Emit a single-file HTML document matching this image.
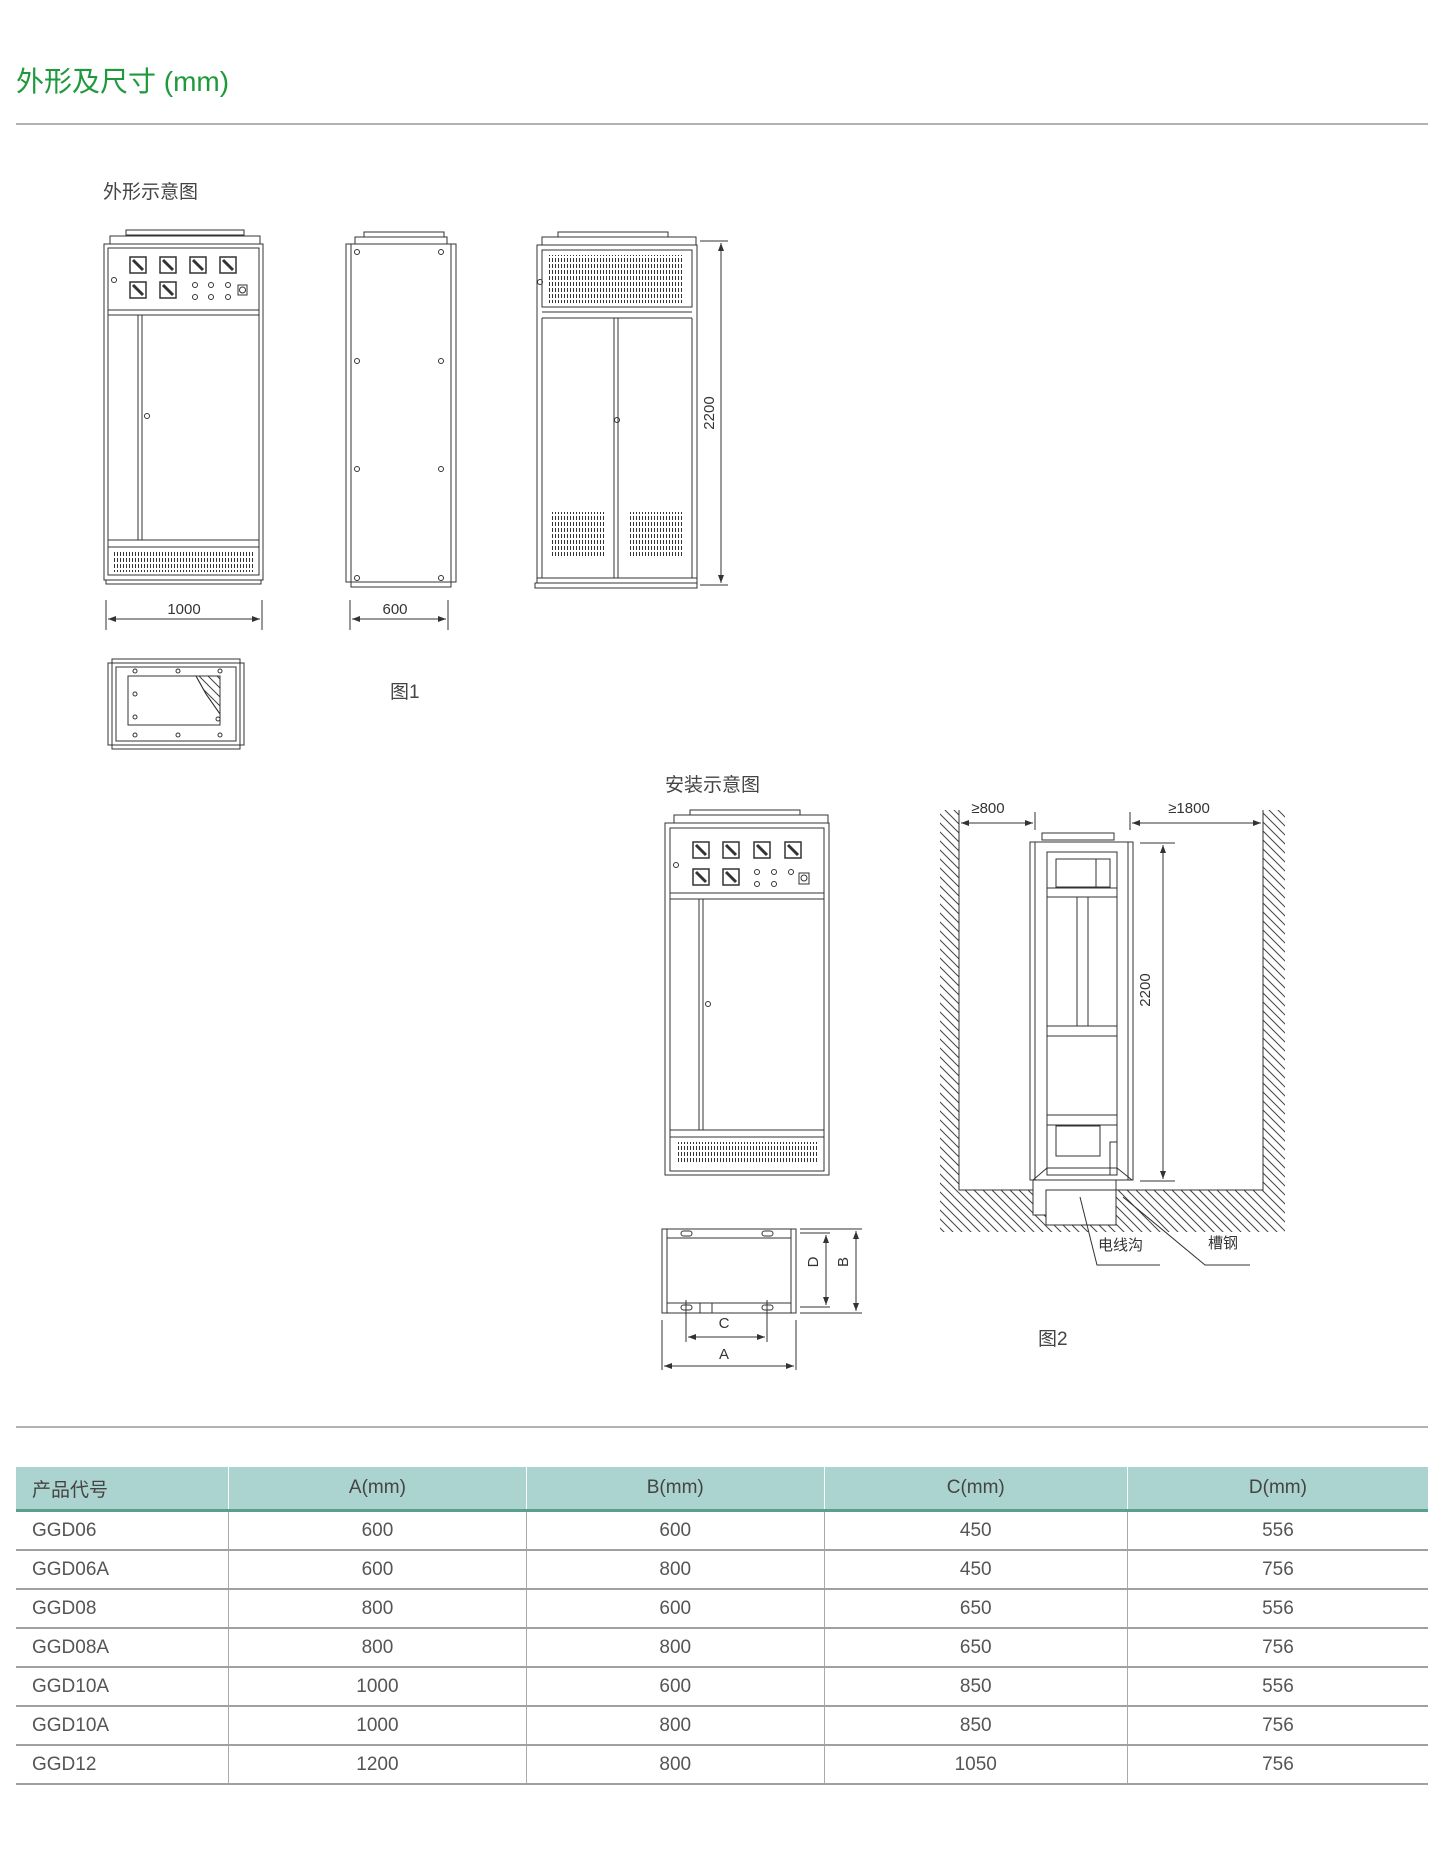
<!DOCTYPE html>
<html><head><meta charset="utf-8"><style>
body{margin:0;background:#fff;width:1456px;height:1849px;overflow:hidden;font-family:"Liberation Sans","Noto Sans CJK SC",sans-serif}
svg text{font-family:"Liberation Sans","Noto Sans CJK SC",sans-serif}
table{position:absolute;left:16px;top:1467px;width:1412px;border-collapse:collapse;color:#555;font-size:19px}
th{background:#abd3cf;font-weight:normal;height:42px;padding:0;border-bottom:3px solid #5a9e8c;border-left:1px solid #fff;color:#444}
td{height:37px;padding:0;border-bottom:2px solid #a0a0a0;border-left:1px solid #aaa;text-align:center}
td:first-child,th:first-child{text-align:left;padding-left:16px;border-left:none}
</style></head><body>
<svg width="1456" height="1849" style="position:absolute;left:0;top:0" viewBox="0 0 1456 1849">
<defs>
<pattern id="h" width="9" height="9" patternUnits="userSpaceOnUse"><path d="M0 0L9 9M-9 0L9 18M0 -9L18 9" stroke="#444" stroke-width="1"/></pattern>
<pattern id="v" width="3" height="6" patternUnits="userSpaceOnUse"><rect x="0" y="0" width="1" height="4" fill="#333"/></pattern>
<marker id="a" markerWidth="8" markerHeight="6" refX="8" refY="3" orient="auto-start-reverse"><path d="M0 0L8 3L0 6z" fill="#333"/></marker>
</defs>
<text x="16" y="91" font-size="28" fill="#1e9a3c">外形及尺寸 (mm)</text>
<line x1="16" y1="124" x2="1428" y2="124" stroke="#999" stroke-width="1.5"/>
<text x="103" y="198" font-size="19" fill="#444">外形示意图</text>
<g fill="none" stroke="#333" stroke-width="1">
<rect x="126" y="230" width="118" height="5"/><rect x="110" y="236" width="150" height="8"/>
<rect x="104" y="244" width="159" height="336"/><rect x="108" y="248" width="151" height="327"/>
<line x1="108" y1="310" x2="259" y2="310"/><line x1="108" y1="315" x2="259" y2="315"/>
<line x1="138" y1="315" x2="138" y2="540"/><line x1="142" y1="315" x2="142" y2="540"/>
<circle cx="147" cy="416" r="2.5"/><circle cx="114" cy="280" r="2.5"/>
<line x1="108" y1="540" x2="259" y2="540"/><line x1="108" y1="547" x2="259" y2="547"/>
<rect x="114" y="552" width="140" height="20" fill="url(#v)" stroke="none"/>
<rect x="106" y="580" width="155" height="4"/>
<g stroke-width="1.5"><rect x="130" y="257" width="16" height="16"/><rect x="160" y="257" width="16" height="16"/><rect x="190" y="257" width="16" height="16"/><rect x="220" y="257" width="16" height="16"/>
<rect x="130" y="282" width="16" height="16"/><rect x="160" y="282" width="16" height="16"/>
<path d="M133 260l10 10M163 260l10 10M193 260l10 10M223 260l10 10M133 285l10 10M163 285l10 10" stroke-width="3"/></g>
<circle cx="195" cy="285" r="2.5"/><circle cx="211" cy="285" r="2.5"/><circle cx="228" cy="285" r="2.5"/>
<circle cx="195" cy="297" r="2.5"/><circle cx="211" cy="297" r="2.5"/><circle cx="228" cy="297" r="2.5"/>
<rect x="238" y="285" width="9" height="10"/><circle cx="242.5" cy="290" r="3"/>
<line x1="106" y1="600" x2="106" y2="630"/><line x1="262" y1="600" x2="262" y2="630"/>
<line x1="108" y1="619" x2="260" y2="619" marker-start="url(#a)" marker-end="url(#a)"/>
<rect x="364" y="232" width="80" height="5"/><rect x="355" y="237" width="92" height="7"/>
<rect x="346" y="244" width="110" height="338"/><rect x="351" y="244" width="100" height="338"/>
<circle cx="357" cy="252" r="2.5"/><circle cx="441" cy="252" r="2.5"/><circle cx="357" cy="361" r="2.5"/><circle cx="441" cy="361" r="2.5"/>
<circle cx="357" cy="469" r="2.5"/><circle cx="441" cy="469" r="2.5"/><circle cx="357" cy="578" r="2.5"/><circle cx="441" cy="578" r="2.5"/>
<rect x="351" y="582" width="100" height="5"/>
<line x1="350" y1="600" x2="350" y2="630"/><line x1="448" y1="600" x2="448" y2="630"/>
<line x1="352" y1="619" x2="446" y2="619" marker-start="url(#a)" marker-end="url(#a)"/>
<rect x="558" y="232" width="110" height="5"/><rect x="542" y="237" width="154" height="8"/>
<rect x="537" y="245" width="160" height="338"/><rect x="542" y="250" width="150" height="57"/>
<rect x="548" y="255" width="136" height="48" fill="url(#v)" stroke="none"/>
<line x1="542" y1="312" x2="692" y2="312"/><line x1="542" y1="318" x2="692" y2="318"/>
<line x1="542" y1="318" x2="542" y2="578"/><line x1="692" y1="318" x2="692" y2="578"/>
<line x1="614" y1="318" x2="614" y2="578"/><line x1="618" y1="318" x2="618" y2="578"/>
<circle cx="617" cy="420" r="2.5"/><circle cx="540" cy="282" r="2.5"/>
<rect x="550" y="512" width="55" height="45" fill="url(#v)" stroke="none"/><rect x="628" y="512" width="55" height="45" fill="url(#v)" stroke="none"/>
<line x1="537" y1="578" x2="697" y2="578"/><rect x="535" y="583" width="162" height="5"/>
<line x1="700" y1="241" x2="728" y2="241"/><line x1="700" y1="585" x2="728" y2="585"/>
<line x1="721" y1="243" x2="721" y2="583" marker-start="url(#a)" marker-end="url(#a)"/>
<rect x="112" y="659" width="128" height="90"/><rect x="108" y="663" width="136" height="82"/><rect x="116" y="667" width="120" height="74"/>
<path d="M128 676H196L206 694L220 714V725H128Z"/>
<path d="M196 676L206 694L220 714V676Z" fill="url(#h)"/>
<circle cx="135" cy="671" r="2"/><circle cx="178" cy="671" r="2"/><circle cx="220" cy="671" r="2"/><circle cx="135" cy="735" r="2"/><circle cx="178" cy="735" r="2"/><circle cx="220" cy="735" r="2"/><circle cx="135" cy="694" r="2"/><circle cx="135" cy="717" r="2"/><circle cx="218" cy="719" r="2"/>
<rect x="690" y="810" width="110" height="5"/><rect x="674" y="815" width="154" height="8"/>
<rect x="665" y="823" width="164" height="352"/><rect x="670" y="828" width="154" height="343"/>
<line x1="670" y1="893" x2="824" y2="893"/><line x1="670" y1="899" x2="824" y2="899"/>
<line x1="699" y1="899" x2="699" y2="1130"/><line x1="703" y1="899" x2="703" y2="1130"/>
<circle cx="708" cy="1004" r="2.5"/><circle cx="676" cy="865" r="2.5"/>
<line x1="670" y1="1130" x2="824" y2="1130"/><line x1="670" y1="1137" x2="824" y2="1137"/>
<rect x="676" y="1142" width="142" height="22" fill="url(#v)" stroke="none"/>
<g stroke-width="1.5"><rect x="693" y="842" width="16" height="16"/><rect x="723" y="842" width="16" height="16"/><rect x="754" y="842" width="16" height="16"/><rect x="785" y="842" width="16" height="16"/>
<rect x="693" y="869" width="16" height="16"/><rect x="723" y="869" width="16" height="16"/>
<path d="M696 845l10 10M726 845l10 10M757 845l10 10M788 845l10 10M696 872l10 10M726 872l10 10" stroke-width="3"/></g>
<circle cx="757" cy="872" r="2.5"/><circle cx="774" cy="872" r="2.5"/><circle cx="791" cy="872" r="2.5"/><circle cx="757" cy="884" r="2.5"/><circle cx="774" cy="884" r="2.5"/>
<rect x="799" y="873" width="10" height="11"/><circle cx="804" cy="878" r="3"/>
<rect x="662" y="1229" width="134" height="84"/><line x1="667" y1="1229" x2="667" y2="1313"/><line x1="791" y1="1229" x2="791" y2="1313"/>
<line x1="667" y1="1238" x2="791" y2="1238"/><line x1="667" y1="1303" x2="791" y2="1303"/>
<rect x="681" y="1231" width="11" height="5" rx="2.5"/><rect x="762" y="1231" width="11" height="5" rx="2.5"/><rect x="681" y="1305" width="11" height="5" rx="2.5"/><rect x="762" y="1305" width="11" height="5" rx="2.5"/>
<rect x="700" y="1303" width="12" height="10"/>
<line x1="800" y1="1229" x2="862" y2="1229"/><line x1="800" y1="1313" x2="862" y2="1313"/><line x1="800" y1="1233" x2="830" y2="1233"/><line x1="800" y1="1307" x2="830" y2="1307"/>
<line x1="826" y1="1235" x2="826" y2="1305" marker-start="url(#a)" marker-end="url(#a)"/>
<line x1="856" y1="1231" x2="856" y2="1311" marker-start="url(#a)" marker-end="url(#a)"/>
<line x1="686" y1="1300" x2="686" y2="1342"/><line x1="767" y1="1300" x2="767" y2="1342"/>
<line x1="688" y1="1337" x2="765" y2="1337" marker-start="url(#a)" marker-end="url(#a)"/>
<line x1="662" y1="1320" x2="662" y2="1370"/><line x1="796" y1="1320" x2="796" y2="1370"/>
<line x1="664" y1="1366" x2="794" y2="1366" marker-start="url(#a)" marker-end="url(#a)"/>
<path d="M940 810H959V1190H1263V810H1285V1232H940Z" fill="url(#h)" stroke="none"/>
<path d="M959 810V1190H1263V810"/>
<rect x="1033" y="1180" width="83" height="35" fill="#fff"/><rect x="1046" y="1190" width="70" height="35" fill="#fff"/>
<rect x="1042" y="833" width="72" height="7"/>
<rect x="1030" y="842" width="103" height="338" fill="#fff"/><rect x="1035" y="842" width="93" height="338"/>
<rect x="1047" y="852" width="70" height="323"/>
<line x1="1047" y1="888" x2="1117" y2="888"/><line x1="1047" y1="897" x2="1117" y2="897"/>
<line x1="1077" y1="897" x2="1077" y2="1026"/><line x1="1088" y1="897" x2="1088" y2="1026"/>
<line x1="1047" y1="1026" x2="1117" y2="1026"/><line x1="1047" y1="1036" x2="1117" y2="1036"/>
<line x1="1047" y1="1115" x2="1117" y2="1115"/><line x1="1047" y1="1125" x2="1117" y2="1125"/>
<rect x="1056" y="859" width="40" height="28"/><rect x="1096" y="859" width="14" height="28"/>
<rect x="1056" y="1126" width="44" height="30"/><rect x="1110" y="1142" width="7" height="33"/>
<path d="M1033 1180L1047 1168H1117L1132 1180"/>
<line x1="959" y1="812" x2="959" y2="830"/><line x1="1035" y1="812" x2="1035" y2="830"/><line x1="1130" y1="812" x2="1130" y2="830"/>
<line x1="961" y1="823" x2="1033" y2="823" marker-start="url(#a)" marker-end="url(#a)"/>
<line x1="1132" y1="823" x2="1261" y2="823" marker-start="url(#a)" marker-end="url(#a)"/>
<line x1="1140" y1="843" x2="1175" y2="843"/><line x1="1140" y1="1181" x2="1175" y2="1181"/>
<line x1="1163" y1="845" x2="1163" y2="1179" marker-start="url(#a)" marker-end="url(#a)"/>
<path d="M1080 1197L1097 1265H1160"/><path d="M1123 1197L1205 1265H1250"/>
</g>
<g font-size="15" fill="#333">
<text x="184" y="614" text-anchor="middle">1000</text>
<text x="395" y="614" text-anchor="middle">600</text>
<text transform="translate(714 413) rotate(-90)" text-anchor="middle">2200</text>
<text x="724" y="1328" text-anchor="middle">C</text>
<text x="724" y="1359" text-anchor="middle">A</text>
<text transform="translate(818 1262) rotate(-90)" text-anchor="middle">D</text>
<text transform="translate(848 1262) rotate(-90)" text-anchor="middle">B</text>
<text x="988" y="813" text-anchor="middle">≥800</text>
<text x="1189" y="813" text-anchor="middle">≥1800</text>
<text transform="translate(1150 990) rotate(-90)" text-anchor="middle">2200</text>
<text x="1098" y="1250">电线沟</text>
<text x="1208" y="1248">槽钢</text>
</g>
<g font-size="19" fill="#444">
<text x="390" y="698">图1</text>
<text x="665" y="791">安装示意图</text>
<text x="1038" y="1345">图2</text>
</g>
<line x1="16" y1="1427" x2="1428" y2="1427" stroke="#999" stroke-width="1.5"/>
</svg>
<table>
<tr><th style="width:196px">产品代号</th><th>A(mm)</th><th>B(mm)</th><th>C(mm)</th><th>D(mm)</th></tr>
<tr><td>GGD06</td><td>600</td><td>600</td><td>450</td><td>556</td></tr>
<tr><td>GGD06A</td><td>600</td><td>800</td><td>450</td><td>756</td></tr>
<tr><td>GGD08</td><td>800</td><td>600</td><td>650</td><td>556</td></tr>
<tr><td>GGD08A</td><td>800</td><td>800</td><td>650</td><td>756</td></tr>
<tr><td>GGD10A</td><td>1000</td><td>600</td><td>850</td><td>556</td></tr>
<tr><td>GGD10A</td><td>1000</td><td>800</td><td>850</td><td>756</td></tr>
<tr><td>GGD12</td><td>1200</td><td>800</td><td>1050</td><td>756</td></tr>
</table>
</body></html>
